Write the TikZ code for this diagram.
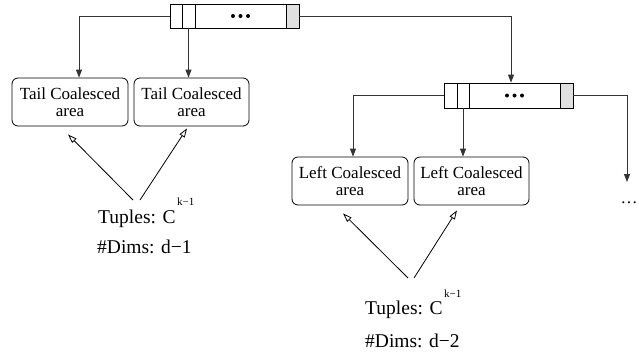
\documentclass[tikz,border=0pt]{standalone}
\usepackage{fontspec}
\setmainfont{Liberation Serif}
\usetikzlibrary{arrows.meta,calc}

\tikzset{
  cell/.style={draw=black, line width=0.9pt, inner sep=0pt, minimum height=24pt},
  lastcell/.style={cell, fill=black!12},
  area/.style={draw=black, line width=0.8pt, rounded corners=6pt, inner sep=0pt,
    minimum width=116pt, minimum height=48pt, align=center,
    font=\fontsize{17}{17}\selectfont},
  conn/.style={draw=black!80, line width=0.9pt, -{Triangle[length=8pt,width=6pt]}},
  feed/.style={draw=black, line width=0.8pt, -{Triangle[open,length=9pt,width=6pt]}},
  lbl/.style={inner sep=0pt, anchor=base west, font=\fontsize{19.5}{19.5}\selectfont},
  suplbl/.style={inner sep=0pt, anchor=base west, font=\fontsize{11}{11}\selectfont},
  dot/.style={fill=black}
}

\begin{document}
\begin{tikzpicture}[x=1pt,y=-1pt]
\useasboundingbox (0,0) rectangle (639,354);

% first array of cells
\node[cell, minimum width=12pt] (a1c1) at (176,16) {};
\node[cell, minimum width=13pt] (a1c2) at (188.5,16) {};
\node[cell, minimum width=91pt] (a1mid) at (240.5,16) {};
\node[lastcell, minimum width=13pt] (a1last) at (292.5,16) {};
\foreach \dx in {-7.5,0,7.5} \fill[dot] ([xshift=\dx pt]a1mid.center) circle (2pt);

% second array of cells
\node[cell, minimum width=13pt, minimum height=25pt] (a2c1) at (450.5,95.5) {};
\node[cell, minimum width=12pt, minimum height=25pt] (a2c2) at (463,95.5) {};
\node[cell, minimum width=91pt, minimum height=25pt] (a2mid) at (514.5,95.5) {};
\node[lastcell, minimum width=13pt, minimum height=25pt] (a2last) at (566.5,95.5) {};
\foreach \dx in {-7.5,0,7.5} \fill[dot] ([xshift=\dx pt]a2mid.center) circle (2pt);

% coalesced areas
\node[area] (tail1) at (70,102) {Tail Coalesced\\area};
\node[area, minimum width=115pt] (tail2) at (191.5,102) {Tail Coalesced\\area};
\node[area] (left1) at (350,181) {Left Coalesced\\area};
\node[area, minimum width=115pt] (left2) at (471.5,181) {Left Coalesced\\area};

% continuation on the right
\node[inner sep=0pt, font=\fontsize{17}{17}\selectfont] (more) at (629,203) {…};
\coordinate (moreend) at (627,182);

% pointers from the cells
\coordinate (t1in) at ([xshift=9pt]tail1.north);
\coordinate (l1in) at ([xshift=3pt]left1.north);
\coordinate (a2in) at ([xshift=-3.5pt]a2mid.north);
\draw[conn] (a1c1.west) -| (t1in);
\draw[conn] (a1c2.south) -- (a1c2.south |- tail2.north);
\draw[conn] (a1last.east) -| (a2in);
\draw[conn] (a2c1.west) -| (l1in);
\draw[conn] (a2c2.south) -- (a2c2.south |- left2.north);
\draw[conn] (a2last.east) -| (moreend);

% tuple labels
\node[lbl] (tup1) at (98,223) {Tuples: C};
\node[suplbl] (sup1) at (177,205) {k−1};
\node[lbl] (dims1) at (97,253) {\#Dims: d−1};
\node[lbl] (tup2) at (365,314) {Tuples: C};
\node[suplbl] (sup2) at (444,297) {k−1};
\node[lbl] (dims2) at (365,347) {\#Dims: d−2};

% feeding arrows
\coordinate (f1a) at (133,200);
\coordinate (f1b) at (140,200);
\coordinate (f2a) at (408,278);
\coordinate (f2b) at (414,278);
\draw[feed] (f1a) -- ([shift={(-2,8)}]tail1.south);
\draw[feed] (f1b) -- ([shift={(-4.5,2)}]tail2.south);
\draw[feed] (f2a) -- ([shift={(-7,8)}]left1.south);
\draw[feed] (f2b) -- ([shift={(-14.5,5)}]left2.south);
\end{tikzpicture}
\end{document}
